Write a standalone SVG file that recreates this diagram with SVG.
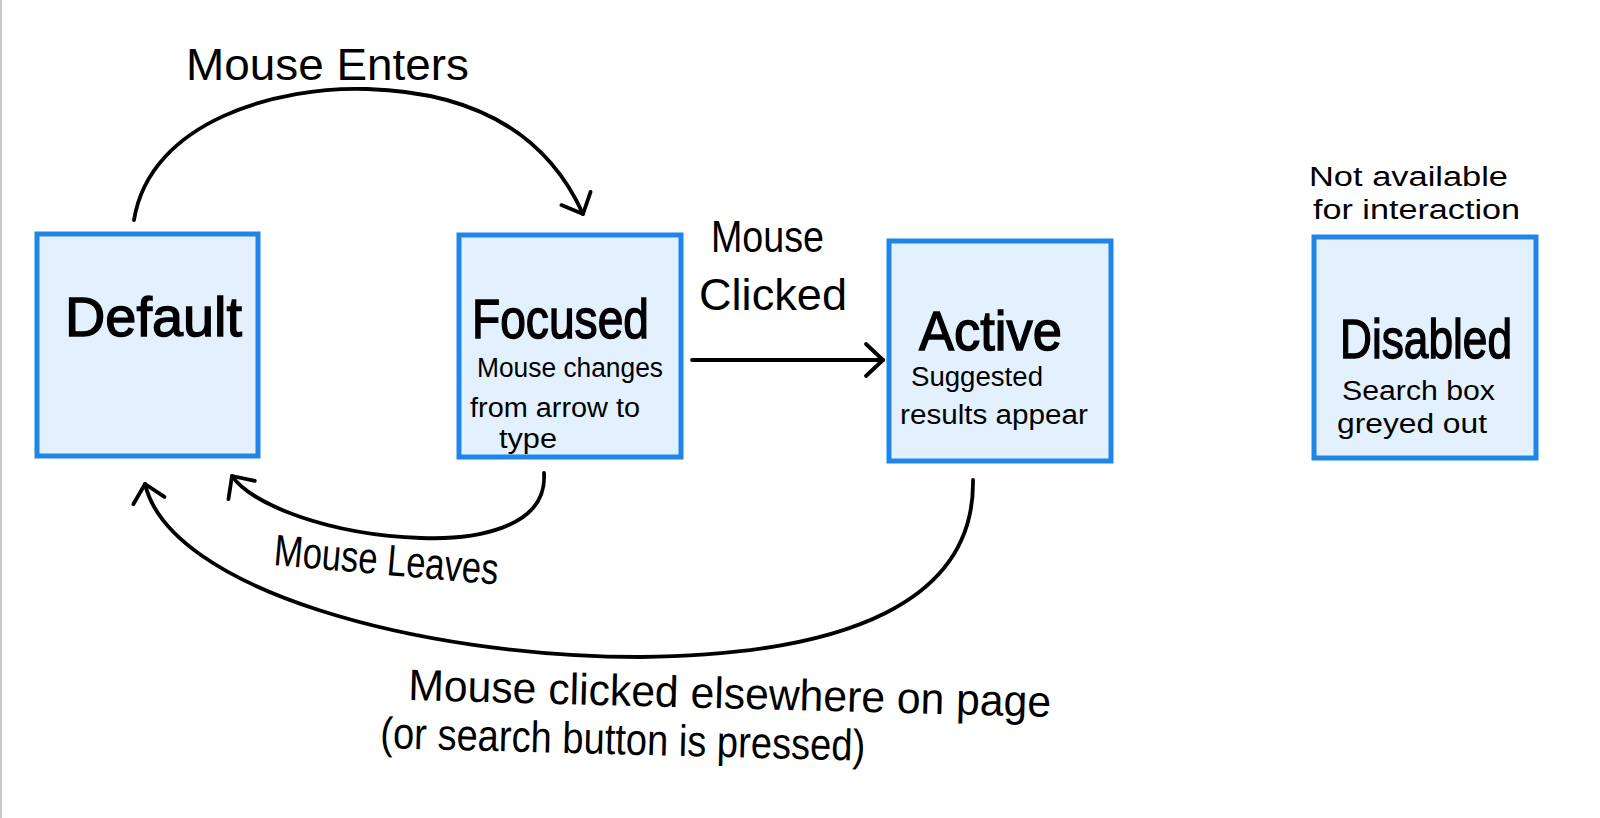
<svg xmlns="http://www.w3.org/2000/svg" width="1600" height="818" viewBox="0 0 1600 818">
<style>
.box{fill:#E3F0FD;stroke:#1F86E8;stroke-width:5}
.t{font-family:"Liberation Sans",Arial,sans-serif;fill:#000}
.title{font-size:56px;stroke:#000;stroke-width:1.4}
.sub{font-size:27px}
.lbl{font-size:44px}
.conn{fill:none;stroke:#000;stroke-width:3.8;stroke-linecap:round}
</style>
<defs>
<marker id="arr" markerUnits="userSpaceOnUse" markerWidth="40" markerHeight="40" viewBox="-30 -20 40 40" refX="0" refY="0" orient="auto" overflow="visible">
<path d="M -17 -16 L 0 0 L -17 16" fill="none" stroke="#000" stroke-width="3.8" stroke-linecap="round" stroke-linejoin="round"/>
</marker>
</defs>
<rect width="1600" height="818" fill="#fff"/>
<line x1="1" y1="0" x2="1" y2="818" stroke="#c8c8c8" stroke-width="2"/>

<g id="connectors">
<path class="conn" d="M 134 220 C 150 120 280 86 367 89 C 470 92 545 130 583 214" marker-end="url(#arr)"/>
<path class="conn" d="M 544 473 C 548 530 470 540 421 538 C 330 535 252 505 232 476" marker-end="url(#arr)"/>
<path class="conn" d="M 973 480 C 975 600 850 655 640 657 C 420 657 170 590 145 484" marker-end="url(#arr)"/>
<path class="conn" d="M 692 360 L 883 360" marker-end="url(#arr)"/>
<text class="t lbl" x="186" y="80" textLength="283" lengthAdjust="spacingAndGlyphs">Mouse Enters</text>
<text class="t lbl" font-size="38" x="711" y="252" textLength="113" lengthAdjust="spacingAndGlyphs">Mouse</text>
<text class="t lbl" font-size="40" x="699" y="310" textLength="148" lengthAdjust="spacingAndGlyphs">Clicked</text>
<text class="t lbl" font-size="36" x="273" y="565" textLength="225" lengthAdjust="spacingAndGlyphs" transform="rotate(5 273 565)">Mouse Leaves</text>
<text class="t lbl" font-size="40" x="408" y="700" textLength="643" lengthAdjust="spacingAndGlyphs" transform="rotate(1.5 408 700)">Mouse clicked elsewhere on page</text>
<text class="t lbl" font-size="36" x="380" y="748" textLength="485" lengthAdjust="spacingAndGlyphs" transform="rotate(1.5 380 748)">(or search button is pressed)</text>
</g>

<g id="node-default">
<rect class="box" x="37" y="234" width="221" height="222"/>
<text class="t title" x="65" y="336" textLength="177" lengthAdjust="spacingAndGlyphs">Default</text>
</g>

<g id="node-focused">
<rect class="box" x="459" y="235" width="222" height="222"/>
<text class="t title" x="472" y="338" textLength="177" lengthAdjust="spacingAndGlyphs">Focused</text>
<text class="t sub" x="477" y="377" textLength="186" lengthAdjust="spacingAndGlyphs">Mouse changes</text>
<text class="t sub" x="470" y="417" textLength="170" lengthAdjust="spacingAndGlyphs">from arrow to</text>
<text class="t sub" x="499" y="448" textLength="58" lengthAdjust="spacingAndGlyphs">type</text>
</g>

<g id="node-active">
<rect class="box" x="889" y="241" width="222" height="220"/>
<text class="t title" x="919" y="350" textLength="143" lengthAdjust="spacingAndGlyphs">Active</text>
<text class="t sub" x="911" y="386" textLength="132" lengthAdjust="spacingAndGlyphs">Suggested</text>
<text class="t sub" x="900" y="424" textLength="188" lengthAdjust="spacingAndGlyphs">results appear</text>
</g>

<g id="node-disabled">
<rect class="box" x="1314" y="237" width="222" height="221"/>
<text class="t sub" x="1309" y="186" textLength="199" lengthAdjust="spacingAndGlyphs">Not available</text>
<text class="t sub" x="1313" y="219" textLength="207" lengthAdjust="spacingAndGlyphs">for interaction</text>
<text class="t title" x="1340" y="358" textLength="172" lengthAdjust="spacingAndGlyphs">Disabled</text>
<text class="t sub" x="1342" y="400" textLength="153" lengthAdjust="spacingAndGlyphs">Search box</text>
<text class="t sub" x="1337" y="433" textLength="150" lengthAdjust="spacingAndGlyphs">greyed out</text>
</g>
</svg>
